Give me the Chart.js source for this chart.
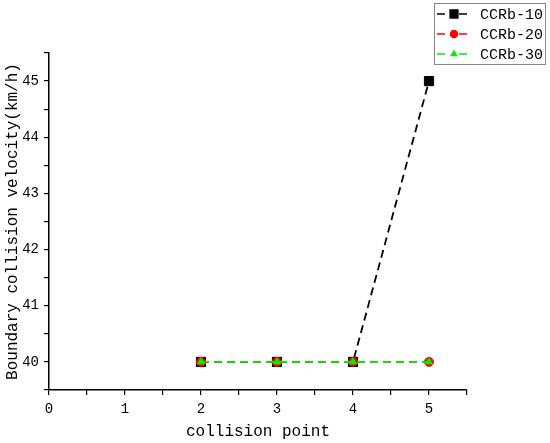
<!DOCTYPE html>
<html>
<head>
<meta charset="utf-8">
<script src="https://cdn.jsdelivr.net/npm/chart.js@4.4.0/dist/chart.umd.min.js"></script>
<style>
html, body { margin: 0; padding: 0; background: #fff; }
#wrap { width: 550px; height: 443px; }
</style>
</head>
<body>
<div id="wrap"><canvas id="chart"></canvas></div>
<script>
// data
var points = [2, 3, 4, 5];
var ccrb10 = [40, 40, 40, 45];
var ccrb20 = [40, 40, 40, 40];
var ccrb30 = [40, 40, 40, 40];
var seriesNames = ['CCRb-10', 'CCRb-20', 'CCRb-30'];
var xTickLabels = [0, 1, 2, 3, 4, 5];
var yTickLabels = [40, 41, 42, 43, 44, 45];

var FONT = "'Liberation Mono', monospace";

function pairs(xs, ys) {
    var out = [];
    for (var i = 0; i < xs.length; i++) {
        out.push({x: xs[i], y: ys[i]});
    }
    return out;
}

// legend box drawn on the canvas, top right
var boxLegend = {
    id: 'boxLegend',
    afterDraw: function(chart) {
        var ctx = chart.ctx;
        var x0 = 434, y0 = 3, w = 111, h = 61;
        ctx.save();
        ctx.strokeStyle = '#888';
        ctx.lineWidth = 1;
        ctx.strokeRect(x0 + 0.5, y0 + 0.5, w, h);
        chart.data.datasets.forEach(function(ds, i) {
            var cy = y0 + 11 + i * 20;
            ctx.strokeStyle = ds.borderColor;
            ctx.lineWidth = 1.5;
            ctx.setLineDash([8, 14]);
            ctx.beginPath();
            ctx.moveTo(x0 + 3, cy);
            ctx.lineTo(x0 + 40, cy);
            ctx.stroke();
            ctx.setLineDash([]);
            ctx.fillStyle = ds.pointBackgroundColor;
            ctx.strokeStyle = ds.pointBorderColor;
            Chart.helpers.drawPoint(ctx, {
                pointStyle: ds.pointStyle,
                radius: ds.pointRadius - 1,
                borderWidth: 1
            }, x0 + 20, cy);
            ctx.fillStyle = '#000';
            ctx.font = '15px ' + FONT;
            ctx.textBaseline = 'middle';
            ctx.textAlign = 'left';
            ctx.fillText(ds.label, x0 + 46, cy + 1);
        });
        ctx.restore();
    }
};

var ctx = document.getElementById('chart');

var lineChart = new Chart(ctx, {
    type: 'line',
    data: {
        datasets: [{
            label: seriesNames[0],
            data: pairs(points, ccrb10),
            borderColor: '#000',
            pointBackgroundColor: '#000',
            pointBorderColor: '#000',
            pointStyle: 'rect',
            pointRadius: 6.5,
            order: 2
        }, {
            label: seriesNames[1],
            data: pairs(points, ccrb20),
            borderColor: '#ff0000',
            pointBackgroundColor: '#ff0000',
            pointBorderColor: '#ff0000',
            pointStyle: 'circle',
            pointRadius: 4.5,
            order: 1
        }, {
            label: seriesNames[2],
            data: pairs(points, ccrb30),
            borderColor: '#00f000',
            pointBackgroundColor: '#00f000',
            pointBorderColor: '#00f000',
            pointStyle: 'triangle',
            pointRadius: 4,
            order: 0
        }].map(function(ds) {
            ds.borderWidth = 1.8;
            ds.borderDash = [8, 5];
            ds.fill = false;
            ds.tension = 0;
            ds.pointBorderWidth = 1;
            return ds;
        })
    },
    options: {
        responsive: true,
        maintainAspectRatio: false,
        animation: false,
        layout: {
            padding: {left: 0, top: 53, right: 83, bottom: 0}
        },
        plugins: {
            legend: {display: false},
            tooltip: {enabled: false}
        },
        scales: {
            x: {
                type: 'linear',
                min: 0,
                max: 5.5,
                afterFit: function(scale) { scale.height = 53; },
                title: {
                    display: true,
                    text: 'collision point',
                    color: '#000',
                    font: {family: FONT, size: 16},
                    padding: {top: 0, bottom: 2}
                },
                ticks: {
                    stepSize: 0.5,
                    autoSkip: false,
                    maxRotation: 0,
                    color: '#000',
                    padding: 6,
                    font: {family: FONT, size: 14},
                    callback: function(v) {
                        return xTickLabels.indexOf(v) >= 0 ? String(v) : '';
                    }
                },
                grid: {
                    drawOnChartArea: false,
                    drawTicks: true,
                    tickLength: 5,
                    color: '#000',
                    lineWidth: 1.2
                },
                border: {display: true, color: '#000', width: 1.5}
            },
            y: {
                type: 'linear',
                min: 39.5,
                max: 45.5,
                afterFit: function(scale) { scale.width = 49; },
                title: {
                    display: true,
                    text: 'Boundary collision velocity(km/h)',
                    color: '#000',
                    font: {family: FONT, size: 16},
                    padding: {top: 3, bottom: 0}
                },
                ticks: {
                    stepSize: 0.5,
                    autoSkip: false,
                    color: '#000',
                    padding: 5,
                    font: {family: FONT, size: 14},
                    callback: function(v) {
                        return yTickLabels.indexOf(v) >= 0 ? String(v) : '';
                    }
                },
                grid: {
                    drawOnChartArea: false,
                    drawTicks: true,
                    tickLength: 5,
                    color: '#000',
                    lineWidth: 1.2
                },
                border: {display: true, color: '#000', width: 1.5}
            }
        }
    },
    plugins: [boxLegend]
});
</script>
</body>
</html>
